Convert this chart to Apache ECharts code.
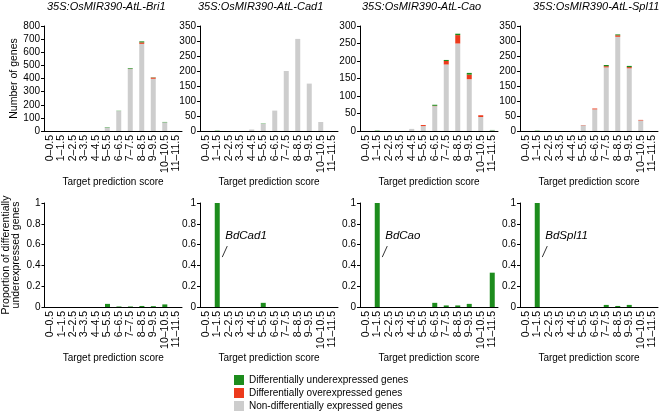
<!DOCTYPE html>
<html><head><meta charset="utf-8">
<script src="https://cdn.jsdelivr.net/npm/echarts@6/dist/echarts.min.js"></script>
<style>html,body{margin:0;padding:0;background:#fff}#c{width:661px;height:411px}</style>
</head><body><div id="c"></div>
<script>
const categories = ['0–0.5','1–1.5','2–2.5','3–3.5','4–4.5','5–5.5','6–6.5','7–7.5','8–8.5','9–9.5','10–10.5','11–11.5'];
const panelTitles = ['35S:OsMIR390-AtL-Bri1','35S:OsMIR390-AtL-Cad1','35S:OsMIR390-AtL-Cao','35S:OsMIR390-AtL-Spl11'];
const geneNames = [null,'BdCad1','BdCao','BdSpl11'];
// Top panels: stacked counts
const bri1Non   = [0,0,0,0,0,26,152,472,664,398,66,0];
const bri1Over  = [0,0,0,0,0,0,0,1,11,9,0,0];
const bri1Under = [0,0,0,0,0,3,2,5,8,2,3,0];
const cad1Non   = [0,0,0,0,5,24,68,200,307,158,30,0];
const cad1Over  = [0,0,0,0,0,0,0,0,0,0,0,0];
const cad1Under = [0,1,0,0,0,1,0,0,0,0,0,0];
const caoNon    = [0,0,0,0,6,14,71,190,250,148,40,2];
const caoOver   = [0,0,0,0,0,3,1,10,24,13,5,0];
const caoUnder  = [0,1,0,0,0,0,3,3,4,5,0,1];
const spl11Non  = [0,0,0,0,0,19,72,212,314,209,35,0];
const spl11Over = [0,0,0,0,0,1,3,4,5,4,2,0];
const spl11Under= [0,1,0,0,0,0,0,4,3,4,0,0];
// Bottom panels: proportion underexpressed
const bri1Prop  = [0,0,0,0,0,0.03,0.005,0.005,0.01,0.008,0.025,0];
const cad1Prop  = [0,1,0,0,0,0.04,0,0,0,0,0,0];
const caoProp   = [0,1,0,0,0,0,0.04,0.015,0.015,0.03,0,0.33];
const spl11Prop = [0,1,0,0,0,0,0,0.02,0.01,0.02,0,0];
const yMaxTop = [800,350,300,350];
const yIntTop = [100,50,50,50];

const nonList=[bri1Non,cad1Non,caoNon,spl11Non];
const overList=[bri1Over,cad1Over,caoOver,spl11Over];
const underList=[bri1Under,cad1Under,caoUnder,spl11Under];
const propList=[bri1Prop,cad1Prop,caoProp,spl11Prop];

const GREEN='#1d8c1d', RED='#ec3a1c', GRAY='#cdcdcd';
const FONT='Liberation Sans';
const lefts=[44,200,360,520];
const W=138;
const chart=echarts.init(document.getElementById('c'),null,{renderer:'canvas'});
const grid=[],xAxis=[],yAxis=[],series=[],title=[];
const titleLeft=[47,198,362,533];
for(let p=0;p<4;p++){
  title.push({text:panelTitles[p],left:titleLeft[p],top:1,padding:0,
    textStyle:{fontFamily:FONT,fontStyle:'italic',fontWeight:'normal',fontSize:11,color:'#000'}});
  grid.push({left:lefts[p],top:26,width:W,height:105});
  grid.push({left:lefts[p],top:203,width:W,height:104});
}
for(let g=0;g<8;g++){
  const p=Math.floor(g/2), top=g%2===0;
  xAxis.push({type:'category',gridIndex:g,data:categories,
    name:'Target prediction score',nameLocation:'middle',nameGap:top?42:45,
    nameTextStyle:{fontFamily:FONT,fontSize:10,color:'#000'},
    axisLine:{lineStyle:{color:'#000',width:1}},axisTick:{length:3,lineStyle:{color:'#000'}},
    axisLabel:{rotate:90,fontFamily:FONT,fontSize:10.5,color:'#000',margin:4,interval:0}});
  const ya={type:'value',gridIndex:g,min:0,
    axisLine:{show:true,lineStyle:{color:'#000',width:1}},axisTick:{show:true,length:3,lineStyle:{color:'#000'}},
    splitLine:{show:false},axisLabel:{fontFamily:FONT,fontSize:10,color:'#000',margin:4}};
  if(top){ya.max=yMaxTop[p];ya.interval=yIntTop[p];}
  else{ya.max=1;ya.interval=0.2;}
  if(p===0){
    ya.nameLocation='middle';ya.nameTextStyle={fontFamily:FONT,fontSize:10.5,color:'#000',lineHeight:10};
    if(top){ya.name='Number of genes';ya.nameGap=24;}
    else{ya.name='Proportion of differentially\nunderexpressed genes';ya.nameGap=23;}
  }
  yAxis.push(ya);
}
for(let p=0;p<4;p++){
  const gi=2*p;
  series.push({name:'Non-differentially expressed genes',type:'bar',xAxisIndex:gi,yAxisIndex:gi,stack:'s'+p,
    data:nonList[p],barWidth:5,itemStyle:{color:GRAY},silent:true});
  series.push({name:'Differentially overexpressed genes',type:'bar',xAxisIndex:gi,yAxisIndex:gi,stack:'s'+p,
    data:overList[p],barWidth:5,itemStyle:{color:RED},silent:true});
  series.push({name:'Differentially underexpressed genes',type:'bar',xAxisIndex:gi,yAxisIndex:gi,stack:'s'+p,
    data:underList[p],barWidth:5,itemStyle:{color:GREEN},silent:true});
  series.push({name:'Differentially underexpressed genes',type:'bar',xAxisIndex:gi+1,yAxisIndex:gi+1,
    data:propList[p],barWidth:5,itemStyle:{color:GREEN},silent:true});
}
chart.setOption({
  animation:false,title,grid,xAxis,yAxis,series,
  legend:{orient:'vertical',left:234,top:375,height:40,padding:0,itemWidth:10,itemHeight:10,itemGap:3,selectedMode:false,
    icon:'rect',textStyle:{fontFamily:FONT,fontSize:10,color:'#000'},
    data:['Differentially underexpressed genes','Differentially overexpressed genes','Non-differentially expressed genes']}
});
const graphic=[];
for(let p=1;p<4;p++){
  const pt=chart.convertToPixel({gridIndex:2*p+1},[categories[1],0.48]);
  graphic.push({type:'line',shape:{x1:pt[0]+5,y1:pt[1],x2:pt[0]+10,y2:pt[1]-11},style:{stroke:'#000',lineWidth:0.8}});
  graphic.push({type:'text',x:pt[0]+8,y:pt[1]-21,style:{text:geneNames[p],fontFamily:FONT,fontStyle:'italic',fontSize:11.5,fill:'#000',textVerticalAlign:'middle',verticalAlign:'middle'}});
}
chart.setOption({graphic});
</script></body></html>
